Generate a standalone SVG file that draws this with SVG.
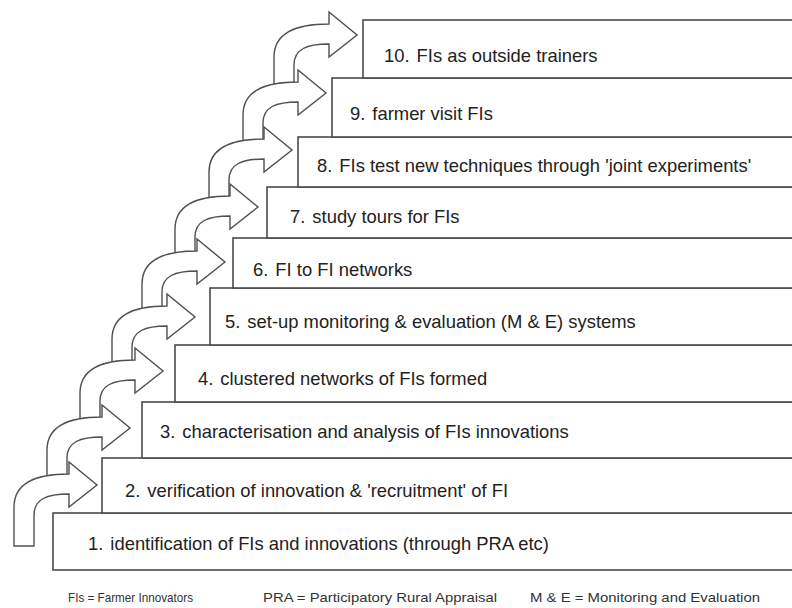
<svg xmlns="http://www.w3.org/2000/svg" width="792" height="608" viewBox="0 0 792 608">
<style>
.box{fill:#fff;stroke:#4a4a4a;stroke-width:1.6}
.lbl{font-family:"Liberation Sans",Arial,sans-serif;font-size:18.4px;fill:#222}
.arr{fill:#fff;stroke:#505050;stroke-width:1.4;stroke-linejoin:miter}
.foot{font-family:"Liberation Sans",Arial,sans-serif;font-size:13.5px;fill:#333}
</style>
<defs>
<path id="ar" d="M -83,50 L -83,22 C -83,-2 -62,-11 -28,-11 L -28,-23 L 0,0 L -28,22 L -28,9 C -50,9 -63,14 -63,30 L -63,50 Z"/>
<path id="ar0" d="M -83,61 L -83,22 C -83,-2 -62,-11 -28,-11 L -28,-23 L 0,0 L -28,22 L -28,9 C -50,9 -63,14 -63,30 L -63,61 Z"/>
</defs>
<rect width="792" height="608" fill="#fff"/>
<g id="step1"><rect class="box" x="53" y="513" width="745" height="57"/><text class="lbl" x="88" y="550">1.<tspan dx="7">identification of FIs and innovations (through PRA etc)</tspan></text></g>
<g id="step2"><rect class="box" x="102" y="458" width="696" height="55"/><text class="lbl" x="125" y="497">2.<tspan dx="7">verification of innovation &amp; 'recruitment' of FI</tspan></text></g>
<g id="step3"><rect class="box" x="142" y="402" width="656" height="56"/><text class="lbl" x="160" y="438">3.<tspan dx="7">characterisation and analysis of FIs innovations</tspan></text></g>
<g id="step4"><rect class="box" x="175" y="345" width="623" height="57"/><text class="lbl" x="198" y="385">4.<tspan dx="7">clustered networks of FIs formed</tspan></text></g>
<g id="step5"><rect class="box" x="210" y="288" width="588" height="57"/><text class="lbl" x="225" y="328">5.<tspan dx="7">set-up monitoring &amp; evaluation (M &amp; E) systems</tspan></text></g>
<g id="step6"><rect class="box" x="233" y="238" width="565" height="50"/><text class="lbl" x="253" y="276">6.<tspan dx="7">FI to FI networks</tspan></text></g>
<g id="step7"><rect class="box" x="267" y="187" width="531" height="51"/><text class="lbl" x="290" y="223">7.<tspan dx="7">study tours for FIs</tspan></text></g>
<g id="step8"><rect class="box" x="298" y="137" width="500" height="50"/><text class="lbl" x="317" y="172">8.<tspan dx="7">FIs test new techniques through 'joint experiments'</tspan></text></g>
<g id="step9"><rect class="box" x="332" y="78" width="466" height="59"/><text class="lbl" x="350" y="120">9.<tspan dx="7">farmer visit FIs</tspan></text></g>
<g id="step10"><rect class="box" x="363" y="20" width="435" height="58"/><text class="lbl" x="384" y="62">10.<tspan dx="7">FIs as outside trainers</tspan></text></g>
<g id="connectors">
<use href="#ar" class="arr" transform="translate(357,35)"/>
<use href="#ar" class="arr" transform="translate(326,93)"/>
<use href="#ar" class="arr" transform="translate(292,150)"/>
<use href="#ar" class="arr" transform="translate(258,207)"/>
<use href="#ar" class="arr" transform="translate(225,262)"/>
<use href="#ar" class="arr" transform="translate(195,317)"/>
<use href="#ar" class="arr" transform="translate(163,371)"/>
<use href="#ar" class="arr" transform="translate(130,428)"/>
<use href="#ar0" class="arr" transform="translate(97,485)"/>
</g>
<g id="legend">
<text class="foot" x="68" y="602" textLength="125" lengthAdjust="spacingAndGlyphs">FIs = Farmer Innovators</text>
<text class="foot" x="263" y="602" textLength="234" lengthAdjust="spacingAndGlyphs">PRA = Participatory Rural Appraisal</text>
<text class="foot" x="530" y="602" textLength="230" lengthAdjust="spacingAndGlyphs">M &amp; E = Monitoring and Evaluation</text>
</g>
</svg>
